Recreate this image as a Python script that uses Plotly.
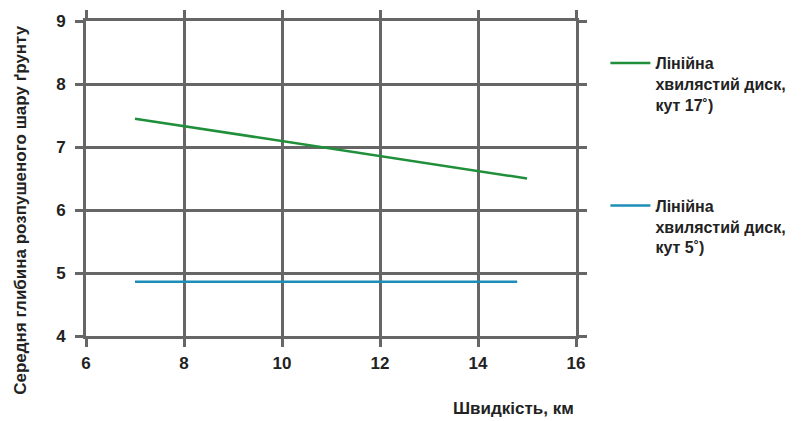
import plotly.graph_objects as go

speed_green = [7, 15]
depth_green = [7.45, 6.5]
speed_blue = [7, 14.8]
depth_blue = [4.86, 4.86]
name_green = "Лінійна<br>хвилястий диск,<br>кут 17˚)"
name_blue = "Лінійна<br>хвилястий диск,<br>кут 5˚)"
x_ticks = [6, 8, 10, 12, 14, 16]
y_ticks = [4, 5, 6, 7, 8, 9]

FONT = "Liberation Sans Narrow, Liberation Sans, Arial"
grid = "#666666"

fig = go.Figure()
fig.add_trace(go.Scatter(x=speed_green, y=depth_green, mode="lines", name=name_green,
                         line=dict(color="#1f8f3a", width=2.5), legendgroup="g"))
fig.add_trace(go.Scatter(x=speed_blue, y=depth_blue, mode="lines", name=name_blue,
                         line=dict(color="#1c8db8", width=2.5), legendgroup="b"))

fig.update_layout(
    width=797, height=413,
    margin=dict(l=78, r=229, t=13, b=85),
    paper_bgcolor="white", plot_bgcolor="white",
    font=dict(family=FONT, size=14, color="#222222"),
    legend=dict(x=1.06, y=0.92, xanchor="left", yanchor="top",
                font=dict(family=FONT, size=16, color="#222222", weight="bold"),
                tracegroupgap=77, valign="top", itemwidth=40),
    showlegend=True,
)
axis_common = dict(showgrid=True, gridcolor=grid, gridwidth=3,
                   showline=True, linecolor=grid, linewidth=3, mirror="all",
                   zeroline=False, ticks="outside", ticklen=8, tickwidth=3,
                   tickcolor=grid, automargin=False,
                   tickfont=dict(family=FONT, size=17, color="#222222", weight="bold"))
fig.update_xaxes(range=[6, 16], tickvals=x_ticks, ticklabelstandoff=2, **axis_common)
fig.update_yaxes(range=[4, 9], tickvals=y_ticks, ticklabelstandoff=6, **axis_common)
fig.add_annotation(text="Середня глибина розпушеного шару ґрунту", xref="paper", yref="paper",
                   x=-0.135, y=0.4, xanchor="center", yanchor="middle", textangle=-90,
                   showarrow=False,
                   font=dict(family=FONT, size=17, color="#222222", weight="bold"))
fig.add_annotation(text="Швидкість, км", xref="paper", yref="paper", x=1.0, y=-0.229,
                   xanchor="right", yanchor="middle", showarrow=False,
                   font=dict(family=FONT, size=17, color="#222222", weight="bold"))

fig.write_html("out.html")
